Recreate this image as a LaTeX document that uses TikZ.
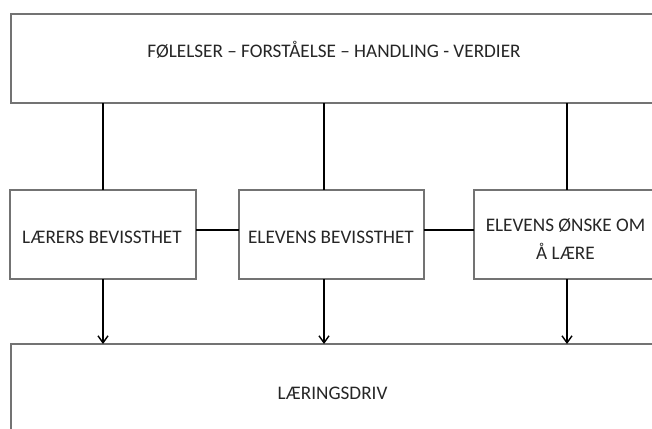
\documentclass[tikz,border=0pt]{standalone}
\usepackage{fontspec}
\setmainfont{Carlito}
\usetikzlibrary{arrows.meta}
\begin{document}
\begin{tikzpicture}[x=1pt,y=-1pt,
    box/.style={draw=black!55,line width=1.1pt,fill=white,inner sep=0pt,outer sep=0pt},
    txt/.style={anchor=base,align=center,inner sep=0pt,text=black!85,
      font=\fontsize{19.2}{28}\selectfont},
    link/.style={line width=1.5pt},
    arr/.style={line width=1.5pt,-{Straight Barb[length=7pt,width=10pt,line width=1.4pt]}}]
  \useasboundingbox (0,0) rectangle (652,428);
  \clip (0,0) rectangle (652,428);
  % boxes
  \node[box,minimum width=646,minimum height=89] (values) at (334,58.5) {};
  \node[box,minimum width=646,minimum height=88] (drive) at (334,388) {};
  \node[box,minimum width=186,minimum height=89] (teacher) at (103,234.5) {};
  \node[box,minimum width=185,minimum height=89] (pupil) at (331.5,234.5) {};
  \node[box,minimum width=186,minimum height=89] (wish) at (567,234.5) {};
  % texts, set on their (last) baselines
  \node[txt] (values-t) at (334,57) {FØLELSER – FORSTÅELSE – HANDLING - VERDIER};
  \node[txt] (teacher-t) at (102,243) {LÆRERS BEVISSTHET};
  \node[txt] (pupil-t) at (331,243) {ELEVENS BEVISSTHET};
  \node[txt] (wish-t) at (565.5,259) {ELEVENS ØNSKE OM\\Å LÆRE};
  \node[txt] (drive-t) at (332.5,399) {LÆRINGSDRIV};
  % connectors
  \draw[link] (values.south -| teacher) -- (teacher.north);
  \draw[link] ([xshift=-7.5pt]pupil.north |- values.south) -- ([xshift=-7.5pt]pupil.north);
  \draw[link] (values.south -| wish) -- (wish.north);
  \draw[link] ([yshift=4.5pt]teacher.east) -- ([yshift=4.5pt]pupil.west);
  \draw[link] ([yshift=4.5pt]pupil.east) -- ([yshift=4.5pt]wish.west);
  \draw[arr] (teacher.south) -- (drive.north -| teacher);
  \draw[arr] ([xshift=-7.5pt]pupil.south) -- ([xshift=-7.5pt]pupil.south |- drive.north);
  \draw[arr] (wish.south) -- (drive.north -| wish);
\end{tikzpicture}
\end{document}
